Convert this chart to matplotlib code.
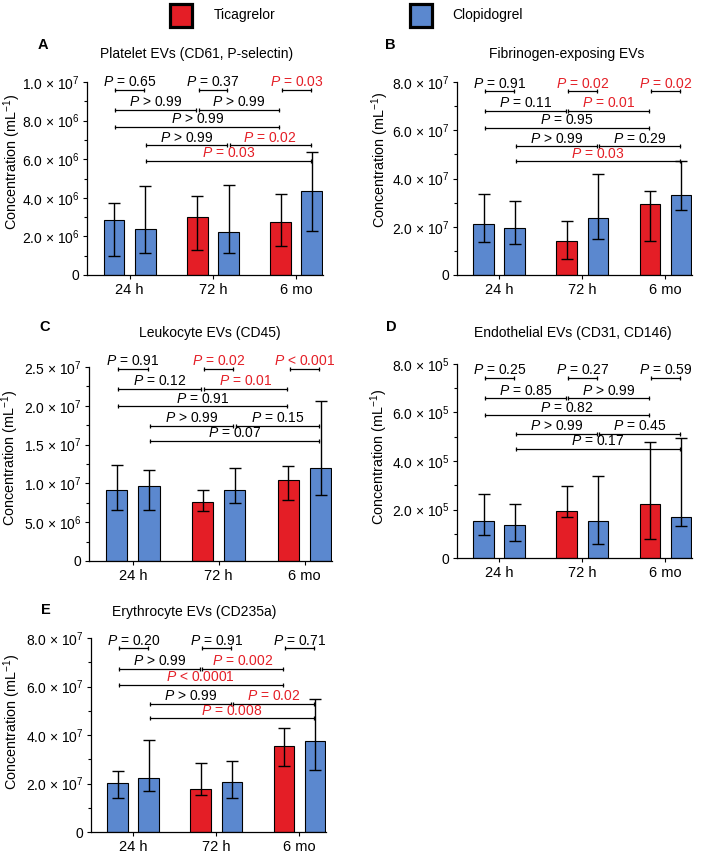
import matplotlib

matplotlib.use("Agg")
import matplotlib.pyplot as plt
import numpy as np
from matplotlib.patches import Rectangle
from matplotlib.ticker import FixedLocator, FuncFormatter
from matplotlib.transforms import blended_transform_factory

plt.rcParams["font.family"] = ["Liberation Sans", "DejaVu Sans"]
plt.rcParams["mathtext.fontset"] = "custom"
plt.rcParams["mathtext.rm"] = "Liberation Sans"
plt.rcParams["mathtext.it"] = "Liberation Sans:italic"

RED = "#E41E26"
BLUE = "#5B88CF"

TIMEPOINTS = ["24 h", "72 h", "6 mo"]
LEGEND_LABELS = ["Ticagrelor", "Clopidogrel"]
# bar order: 24 h (two groups), 72 h (tica, clop), 6 mo (tica, clop)
BAR_COLORS = [BLUE, BLUE, RED, BLUE, RED, BLUE]

PANEL_LETTERS = ["A", "B", "C", "D", "E"]
PANEL_TITLES = [
    "Platelet EVs (CD61, P-selectin)",
    "Fibrinogen-exposing EVs",
    "Leukocyte EVs (CD45)",
    "Endothelial EVs (CD31, CD146)",
    "Erythrocyte EVs (CD235a)",
]
Y_MAX = [1.0e7, 8.0e7, 2.5e7, 8.0e5, 8.0e7]
Y_STEP = [2.0e6, 2.0e7, 5.0e6, 2.0e5, 2.0e7]

# median, lower and upper error bar ends
A_MEDIAN = [2.84e6, 2.40e6, 3.00e6, 2.22e6, 2.74e6, 4.34e6]
A_LOW = [1.00e6, 1.14e6, 1.28e6, 1.14e6, 1.50e6, 2.28e6]
A_HIGH = [3.71e6, 4.62e6, 4.09e6, 4.66e6, 4.22e6, 6.36e6]

B_MEDIAN = [2.11e7, 1.96e7, 1.43e7, 2.37e7, 2.94e7, 3.32e7]
B_LOW = [1.37e7, 1.28e7, 0.68e7, 1.50e7, 1.39e7, 2.68e7]
B_HIGH = [3.34e7, 3.05e7, 2.25e7, 4.17e7, 3.50e7, 4.74e7]

C_MEDIAN = [9.19e6, 9.67e6, 7.62e6, 9.19e6, 1.04e7, 1.20e7]
C_LOW = [6.59e6, 6.59e6, 6.41e6, 7.44e6, 7.91e6, 8.51e6]
C_HIGH = [1.24e7, 1.17e7, 9.10e6, 1.20e7, 1.22e7, 2.06e7]

D_MEDIAN = [1.54e5, 1.37e5, 1.95e5, 1.51e5, 2.24e5, 1.70e5]
D_LOW = [0.96e5, 0.71e5, 1.69e5, 0.58e5, 0.77e5, 1.33e5]
D_HIGH = [2.64e5, 2.23e5, 2.98e5, 3.38e5, 4.77e5, 4.96e5]

E_MEDIAN = [2.02e7, 2.21e7, 1.79e7, 2.06e7, 3.56e7, 3.74e7]
E_LOW = [1.40e7, 1.69e7, 1.51e7, 1.39e7, 2.74e7, 2.57e7]
E_HIGH = [2.53e7, 3.78e7, 2.85e7, 2.91e7, 4.30e7, 5.47e7]

# pairwise comparisons (bar index pairs) and the bracket row they sit on
COMPARISONS = [(0, 1), (2, 3), (4, 5), (0, 2), (2, 4), (0, 4), (1, 3), (3, 5), (1, 5)]
COMPARISON_ROW = [0, 0, 0, 1, 1, 2, 3, 3, 4]

A_P = ["= 0.65", "= 0.37", "= 0.03", "> 0.99", "> 0.99", "> 0.99", "> 0.99", "= 0.02", "= 0.03"]
B_P = ["= 0.91", "= 0.02", "= 0.02", "= 0.11", "= 0.01", "= 0.95", "> 0.99", "= 0.29", "= 0.03"]
C_P = ["= 0.91", "= 0.02", "< 0.001", "= 0.12", "= 0.01", "= 0.91", "> 0.99", "= 0.15", "= 0.07"]
D_P = ["= 0.25", "= 0.27", "= 0.59", "= 0.85", "> 0.99", "= 0.82", "> 0.99", "= 0.45", "= 0.17"]
E_P = ["= 0.20", "= 0.91", "= 0.71", "> 0.99", "= 0.002", "< 0.0001", "> 0.99", "= 0.02", "= 0.008"]

MEDIANS = [A_MEDIAN, B_MEDIAN, C_MEDIAN, D_MEDIAN, E_MEDIAN]
LOWS = [A_LOW, B_LOW, C_LOW, D_LOW, E_LOW]
HIGHS = [A_HIGH, B_HIGH, C_HIGH, D_HIGH, E_HIGH]
P_VALUES = [A_P, B_P, C_P, D_P, E_P]

# layout, in pixels of the 709 x 852 figure
W, H = 709, 852
AXES_BOX = [(87, 82, 323, 275), (457, 82, 692, 275), (89, 367, 332, 561),
            (457, 364, 692, 558), (91, 638, 326, 832)]
ROW_HEIGHTS = [
    [0.960, 0.857, 0.767, 0.672, 0.591],
    [0.953, 0.850, 0.764, 0.666, 0.590],
    [0.990, 0.888, 0.798, 0.698, 0.619],
    [0.928, 0.823, 0.735, 0.641, 0.562],
    [0.948, 0.842, 0.758, 0.661, 0.586],
]
LETTER_POS = [(43, 45), (390, 45), (45, 327), (391, 327), (46, 610)]
TITLE_POS = [(197, 54), (567, 54), (210, 333), (573, 333), (194, 612)]
YLABEL_POS = [(12, 162), (380, 160), (10, 458), (379, 457), (12, 722)]

BAR_OFFSET = 0.187
BAR_WIDTH = 0.25


def fx(x):
    return x / W


def fy(y):
    return 1 - y / H


def sci_label(value, _pos):
    if value <= 0:
        return "0"
    exp = int(np.floor(np.log10(value) + 1e-9))
    return f"{value / 10**exp:.1f} × 10$^{{{exp}}}$"


def is_significant(p_text):
    op, val = p_text.split()
    return op == "<" or (op == "=" and float(val) < 0.05)


fig = plt.figure(figsize=(W / 100, H / 100), dpi=100)

bar_x = []
for g in range(len(TIMEPOINTS)):
    bar_x += [g - BAR_OFFSET, g + BAR_OFFSET]
bar_x = np.array(bar_x)

for k in range(len(PANEL_TITLES)):
    x0, y0, x1, y1 = AXES_BOX[k]
    ax = fig.add_axes([fx(x0), fy(y1), (x1 - x0) / W, (y1 - y0) / H])

    med = np.array(MEDIANS[k])
    low = np.array(LOWS[k])
    high = np.array(HIGHS[k])

    ax.bar(bar_x, med, width=BAR_WIDTH, color=BAR_COLORS, edgecolor="black",
           linewidth=0.8, zorder=2)
    ax.errorbar(bar_x, med, yerr=[med - low, high - med], fmt="none", ecolor="black",
                elinewidth=1.0, capsize=4.5, capthick=1.0, zorder=3)

    ax.set_xlim(-0.51, 2.32)
    ax.set_ylim(0, Y_MAX[k])
    ax.set_xticks(range(len(TIMEPOINTS)))
    ax.set_xticklabels(TIMEPOINTS, fontsize=10.5)
    major = np.linspace(0, Y_MAX[k], int(round(Y_MAX[k] / Y_STEP[k])) + 1)
    ax.yaxis.set_major_locator(FixedLocator(major))
    ax.yaxis.set_minor_locator(FixedLocator(major[:-1] + Y_STEP[k] / 2))
    ax.yaxis.set_major_formatter(FuncFormatter(sci_label))
    ax.tick_params(axis="y", which="major", length=3, width=0.8, pad=2.5, labelsize=10)
    ax.tick_params(axis="y", which="minor", length=2, width=0.8)
    ax.tick_params(axis="x", length=3, width=0.8, pad=2.5)
    for side in ("top", "right"):
        ax.spines[side].set_visible(False)
    for side in ("left", "bottom"):
        ax.spines[side].set_linewidth(0.9)

    trans = blended_transform_factory(ax.transData, ax.transAxes)
    for (i, j), row, p_text in zip(COMPARISONS, COMPARISON_ROW, P_VALUES[k]):
        xa, xb = bar_x[i] + 0.015, bar_x[j] - 0.015
        yy = ROW_HEIGHTS[k][row]
        ax.plot([xa, xb], [yy, yy], color="black", lw=0.9, transform=trans, clip_on=False)
        ax.plot([xa, xb], [yy, yy], ls="none", marker="|", ms=3.5, mew=0.9,
                color="black", transform=trans, clip_on=False)
        color = RED if is_significant(p_text) else "black"
        ax.annotate(rf"$P$ {p_text}", xy=((xa + xb) / 2, yy), xycoords=trans,
                    xytext=(0, 2.5), textcoords="offset points", ha="center",
                    va="baseline", fontsize=10, color=color)

    lx, ly = LETTER_POS[k]
    fig.text(fx(lx), fy(ly), PANEL_LETTERS[k], fontsize=10.5, fontweight="bold",
             ha="center", va="center")
    tx, ty = TITLE_POS[k]
    fig.text(fx(tx), fy(ty), PANEL_TITLES[k], fontsize=10, ha="center", va="center")
    yx, yy = YLABEL_POS[k]
    fig.text(fx(yx), fy(yy), "Concentration (mL$^{-1}$)", fontsize=10.4,
             rotation=90, ha="center", va="center")

# legend squares
for (sx, tx), label, color in zip([(168, 214), (408, 452)], LEGEND_LABELS, [RED, BLUE]):
    fig.add_artist(Rectangle((fx(sx + 1.5), fy(26.5)), 23 / W, 23 / H,
                             transform=fig.transFigure, facecolor=color,
                             edgecolor="black", linewidth=2.3))
    fig.text(fx(tx), fy(15), label, fontsize=10, ha="left", va="center")

fig.savefig("out.png", dpi=100)
